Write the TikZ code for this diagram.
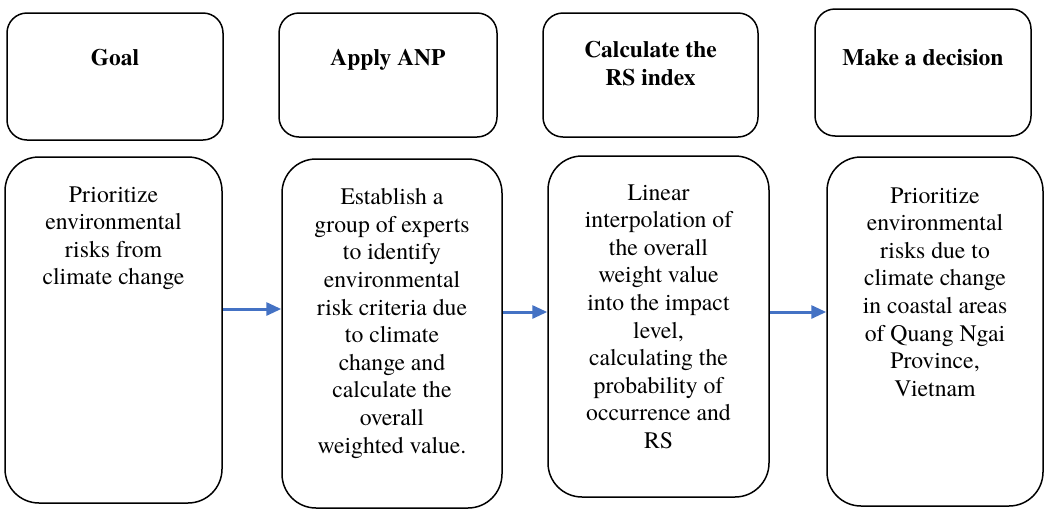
\documentclass[tikz,border=0pt]{standalone}
\usepackage{fontspec}
\setmainfont{texgyretermes}[Extension=.otf,UprightFont=*-regular,BoldFont=*-bold,ItalicFont=*-italic,BoldItalicFont=*-bolditalic]
\usepackage{xcolor}
\definecolor{FlowBlue}{HTML}{4472C4}
\usepackage{tikz}
\usetikzlibrary{arrows.meta,positioning}

\begin{document}
\begin{tikzpicture}[
  x=1pt,y=-1pt,
  stagebox/.style={draw=black,line width=1.5pt,rounded corners=20pt,inner sep=0pt},
  stepbox/.style={draw=black,line width=1.5pt,rounded corners=34pt,inner sep=0pt},
  stagetext/.style={anchor=north,inner sep=0pt,align=center,font=\fontsize{23.5}{28}\selectfont\bfseries},
  steptext/.style={anchor=north,inner sep=0pt,align=center,font=\fontsize{23.7}{27.6}\selectfont},
  flow/.style={-{Triangle[length=15pt,width=13pt]},draw=FlowBlue,line width=3pt}
]
\useasboundingbox (0,0) rectangle (1047,512);

% top row: stages
\node[stagebox,minimum width=216pt,minimum height=127pt] (goal) at (115,76.5) {};
\node[stagebox,minimum width=218pt,minimum height=124pt] (anp) at (388,75) {};
\node[stagebox,minimum width=215pt,minimum height=124pt] (rs) at (650.5,75) {};
\node[stagebox,minimum width=216pt,minimum height=127pt] (decide) at (923,72.5) {};
\node[stagetext,below=37pt of goal.north] (goal-t) {Goal};
\node[stagetext,below=37pt of anp.north] (anp-t) {Apply ANP};
\node[stagetext,below=29pt of rs.north] (rs-t) {Calculate the\\RS index};
\node[stagetext,below=41pt of decide.north] (decide-t) {Make a decision};

% bottom row: steps
\node[stepbox,minimum width=217pt,minimum height=346pt] (b1) at (113.5,330) {};
\node[stepbox,minimum width=220pt,minimum height=349pt] (b2) at (392,333.5) {};
\node[stepbox,minimum width=221pt,minimum height=341pt] (b3) at (658.5,326.5) {};
\node[stepbox,minimum width=216pt,minimum height=349pt] (b4) at (935,331.5) {};
\node[steptext,below=30pt of b1.north] (b1-t) {Prioritize\\environmental\\risks from\\climate change};
\node[steptext,below=30pt of b2.north] (b2-t) {Establish a\\group of experts\\to identify\\environmental\\risk criteria due\\to climate\\change and\\calculate the\\overall\\weighted value.};
\node[steptext,below=29pt of b3.north] (b3-t) {Linear\\interpolation of\\the overall\\weight value\\into the impact\\level,\\calculating the\\probability of\\occurrence and\\RS};
\node[steptext,below=31pt of b4.north] (b4-t) {Prioritize\\environmental\\risks due to\\climate change\\in coastal areas\\of Quang Ngai\\Province,\\Vietnam};

\draw[flow] ([yshift=21pt]b1.east) -- ([yshift=21pt]b1.east -| b2.west);
\draw[flow] ([yshift=21.5pt]b2.east) -- ([yshift=21.5pt]b2.east -| b3.west);
\draw[flow] ([yshift=14.5pt]b3.east) -- ([yshift=14.5pt]b3.east -| b4.west);
\end{tikzpicture}
\end{document}
